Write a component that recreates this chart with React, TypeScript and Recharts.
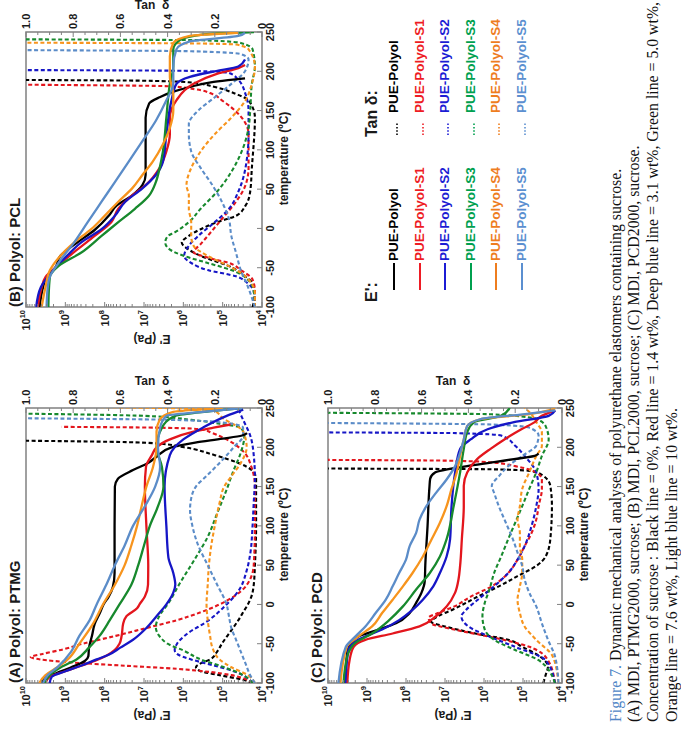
import React from 'react';
import { LineChart, Line, XAxis, YAxis, ReferenceArea } from 'recharts';

type Pt = [number, number];

const SERIES_NAMES = ['PUE-Polyol', 'PUE-Polyol-S1', 'PUE-Polyol-S2', 'PUE-Polyol-S3', 'PUE-Polyol-S4', 'PUE-Polyol-S5'];
const LINE_COLORS = ['#000000', '#e3161d', '#1616c6', '#17892d', '#f7941d', '#5b8cc8'];
const LEGEND_COLORS = ['#000000', '#ee1c24', '#1c1cd4', '#00a04f', '#ee7d1f', '#5b8fd0'];
const TEMP_TICKS = [-100, -50, 0, 50, 100, 150, 200, 250];
const E_DECADES = [4, 5, 6, 7, 8, 9, 10];
const TAN_LABEL_STEP = 0.2;

// ---------- (A) PTMG : storage modulus E' (Pa) ----------
const ptmgE0: Pt[] = [[-100, 4.0e9], [-93, 3.2e9], [-87, 1.6e9], [-80, 7.1e8], [-72, 3.2e8], [-66, 2.6e8], [-55, 2.5e8], [-40, 2.1e8], [-25, 1.8e8], [-10, 1.3e8], [0, 1.07e8], [10, 7.9e7], [22, 6.2e7], [40, 5.6e7], [100, 5.6e7], [150, 5.5e7], [160, 4.6e7], [171, 1.9e7], [180, 7.9e6], [188, 4.8e6], [200, 2.0e6], [206, 5.0e5], [211, 1.0e5], [215, 3.2e4], [218, 2.4e4]];
const ptmgE1: Pt[] = [[-100, 3.2e9], [-92, 2.5e9], [-85, 1.0e9], [-78, 4.0e8], [-72, 1.8e8], [-65, 8.9e7], [-58, 5.6e7], [-50, 4.2e7], [-40, 3.7e7], [-25, 3.4e7], [-15, 2.8e7], [-5, 1.5e7], [0, 1.3e7], [10, 9.5e6], [25, 7.9e6], [50, 7.8e6], [100, 8.7e6], [150, 9.5e6], [175, 8.9e6], [190, 6.3e6], [200, 4.8e6], [210, 2.2e6], [220, 5.5e5], [225, 1.7e5], [229, 6.3e4]];
const ptmgE2: Pt[] = [[-100, 2.5e9], [-92, 2.2e9], [-85, 1.0e9], [-78, 4.0e8], [-70, 1.6e8], [-64, 7.9e7], [-55, 4.0e7], [-45, 1.9e7], [-30, 8.7e6], [-15, 4.8e6], [0, 2.7e6], [15, 1.8e6], [25, 1.6e6], [40, 1.8e6], [60, 2.4e6], [100, 2.7e6], [150, 3.0e6], [190, 2.2e6], [210, 1.0e6], [225, 3.2e5], [240, 7.9e4], [248, 3.0e4]];
const ptmgE3: Pt[] = [[-100, 3.4e9], [-90, 2.5e9], [-80, 1.3e9], [-70, 5.2e8], [-55, 2.5e8], [-40, 1.35e8], [-20, 7.4e7], [0, 4.2e7], [25, 2.1e7], [50, 1.4e7], [75, 1.0e7], [100, 7.1e6], [125, 4.4e6], [150, 3.2e6], [175, 3.5e6], [200, 4.8e6], [225, 3.5e6], [240, 1.6e6], [246, 2.0e5], [250, 3.2e4]];
const ptmgE4: Pt[] = [[-100, 4.6e9], [-90, 3.2e9], [-80, 1.6e9], [-70, 8.7e8], [-50, 4.4e8], [-25, 2.0e8], [0, 1.1e8], [25, 5.5e7], [50, 3.1e7], [75, 2.1e7], [100, 1.5e7], [125, 1.15e7], [150, 8.7e6], [175, 5.9e6], [200, 4.8e6], [220, 4.8e6], [235, 4.0e6], [245, 1.8e6], [248, 4.0e5], [250, 1.0e5]];
const ptmgE5: Pt[] = [[-100, 3.7e9], [-90, 2.8e9], [-80, 1.6e9], [-60, 7.1e8], [-40, 4.4e8], [-20, 2.4e8], [0, 1.6e8], [25, 9.1e7], [50, 5.5e7], [75, 3.1e7], [100, 1.9e7], [125, 9.5e6], [150, 5.2e6], [175, 3.9e6], [200, 4.4e6], [225, 3.9e6], [240, 2.7e6], [245, 3.2e5], [250, 3.2e4]];

// ---------- (A) PTMG : tan delta ----------
const ptmgT0: Pt[] = [[-100, 0.04], [-96, 0.08], [-90, 0.18], [-85, 0.26], [-80, 0.28], [-75, 0.26], [-70, 0.22], [-60, 0.19], [-50, 0.17], [-33, 0.13], [-20, 0.1], [-10, 0.08], [0, 0.06], [10, 0.045], [25, 0.035], [50, 0.03], [100, 0.025], [160, 0.025], [170, 0.04], [180, 0.1], [190, 0.2], [200, 0.33], [205, 0.45], [207, 0.65], [208.5, 1.05]];
const ptmgT1: Pt[] = [[-100, 0.04], [-95, 0.07], [-90, 0.13], [-86, 0.22], [-82, 0.36], [-78, 0.58], [-74, 0.8], [-70, 0.94], [-67, 0.98], [-63, 0.93], [-57, 0.84], [-50, 0.76], [-40, 0.62], [-30, 0.49], [-20, 0.36], [-10, 0.26], [0, 0.18], [10, 0.12], [25, 0.064], [50, 0.035], [100, 0.03], [150, 0.03], [175, 0.045], [195, 0.08], [210, 0.15], [218, 0.21], [223, 0.26], [225, 0.45], [226, 0.85]];
const ptmgT2: Pt[] = [[-100, 0.04], [-92, 0.07], [-85, 0.12], [-78, 0.2], [-70, 0.3], [-63, 0.36], [-58, 0.37], [-50, 0.36], [-38, 0.32], [-21, 0.23], [0, 0.15], [17, 0.1], [43, 0.065], [64, 0.05], [100, 0.04], [130, 0.035], [160, 0.03], [190, 0.035], [215, 0.05], [235, 0.08], [248, 0.1]];
const ptmgT3: Pt[] = [[-100, 0.04], [-90, 0.08], [-80, 0.16], [-70, 0.26], [-59, 0.33], [-50, 0.4], [-42, 0.43], [-29, 0.45], [-12, 0.43], [0, 0.4], [26, 0.35], [60, 0.28], [86, 0.23], [116, 0.19], [146, 0.15], [171, 0.12], [193, 0.09], [214, 0.075], [225, 0.09], [230, 0.18], [235, 0.3], [240, 0.5], [243, 1.05]];
const ptmgT4: Pt[] = [[-100, 0.03], [-90, 0.06], [-80, 0.13], [-70, 0.18], [-55, 0.21], [-40, 0.22], [-20, 0.23], [0, 0.235], [25, 0.23], [50, 0.225], [75, 0.215], [100, 0.2], [129, 0.18], [150, 0.16], [163, 0.13], [180, 0.09], [200, 0.065], [220, 0.08], [238, 0.17], [246, 0.2], [249, 0.3], [252, 0.9]];
const ptmgT5: Pt[] = [[-100, 0.03], [-90, 0.05], [-75, 0.07], [-60, 0.09], [-45, 0.11], [-30, 0.13], [-15, 0.14], [0, 0.15], [25, 0.19], [50, 0.23], [75, 0.27], [100, 0.295], [120, 0.305], [135, 0.3], [150, 0.28], [165, 0.23], [180, 0.18], [200, 0.12], [215, 0.08], [225, 0.08], [231, 0.15], [235, 0.4], [237, 1.05]];

// ---------- (B) PCL : storage modulus E' (Pa) ----------
const pclE0: Pt[] = [[-100, 4.5e9], [-75, 3.7e9], [-62, 3.0e9], [-50, 1.8e9], [-35, 1.35e9], [-18, 5.0e8], [-2, 1.8e8], [16, 7.9e7], [29, 5.0e7], [42, 2.0e7], [55, 1.1e7], [68, 9.1e6], [100, 9.1e6], [141, 9.1e6], [159, 7.4e6], [167, 4.0e6], [174, 1.8e6], [180, 6.8e5], [186, 2.0e5], [189, 6.3e4], [191, 2.7e4]];
const pclE1: Pt[] = [[-100, 5.0e9], [-75, 4.0e9], [-62, 3.2e9], [-48, 1.6e9], [-27, 5.0e8], [-9.5, 1.8e8], [8, 6.8e7], [25, 4.5e7], [42, 2.0e7], [55, 9.1e6], [77, 4.0e6], [98, 2.7e6], [120, 2.2e6], [141, 2.2e6], [163, 1.5e6], [184, 5.5e5], [197, 1.35e5], [204, 4.0e4], [208, 2.7e4]];
const pclE2: Pt[] = [[-100, 5.5e9], [-75, 4.2e9], [-53, 2.0e9], [-35, 9.1e8], [-18, 4.0e8], [-1, 1.2e8], [16, 5.5e7], [34, 3.0e7], [51, 1.1e7], [68, 5.0e6], [85, 3.3e6], [120, 2.7e6], [163, 2.0e6], [184, 1.5e6], [193, 6.8e5], [200, 1.6e5], [206, 4.0e4], [215, 2.7e4]];
const pclE3: Pt[] = [[-100, 2.7e9], [-75, 2.6e9], [-61, 2.45e9], [-48, 1.5e9], [-31, 4.0e8], [-9.5, 1.2e8], [8, 4.5e7], [25, 1.7e7], [42, 7.4e6], [59, 5.0e6], [77, 4.0e6], [98, 3.3e6], [141, 2.7e6], [184, 2.2e6], [206, 1.8e6], [228, 1.8e6], [240, 1.2e6], [247, 3.0e5], [250, 1.6e4]];
const pclE4: Pt[] = [[-100, 4.0e9], [-75, 3.2e9], [-53, 2.45e9], [-35, 1.35e9], [-18, 6.0e8], [-1, 2.2e8], [16, 1.0e8], [34, 4.5e7], [51, 2.0e7], [68, 1.1e7], [85, 6.0e6], [107, 3.3e6], [128, 2.2e6], [150, 1.8e6], [171, 1.8e6], [193, 2.2e6], [219, 2.2e6], [236, 1.8e6], [245, 6.8e5], [249, 4.0e4]];
const pclE5: Pt[] = [[-100, 3.0e9], [-75, 2.8e9], [-61, 2.45e9], [-44, 1.5e9], [-18, 6.0e8], [8, 2.7e8], [34, 1.2e8], [59, 5.5e7], [85, 2.45e7], [111, 1.1e7], [137, 5.0e6], [163, 2.7e6], [184, 1.8e6], [206, 1.8e6], [228, 1.5e6], [238, 6.8e5], [245, 4.0e4], [249, 2.7e4]];

// ---------- (B) PCL : tan delta ----------
const pclT0: Pt[] = [[-100, 0.04], [-85, 0.03], [-70, 0.04], [-61, 0.07], [-48, 0.14], [-35, 0.26], [-27, 0.31], [-18, 0.34], [-9.5, 0.31], [-1, 0.26], [8, 0.19], [16, 0.11], [29, 0.07], [47, 0.05], [77, 0.043], [141, 0.03], [163, 0.057], [171, 0.11], [180, 0.2], [186, 0.31], [188, 0.5], [189, 1.05]];
const pclT1: Pt[] = [[-100, 0.03], [-80, 0.03], [-65, 0.04], [-53, 0.09], [-44, 0.14], [-38, 0.22], [-30, 0.29], [-20, 0.26], [-9.5, 0.23], [12, 0.17], [34, 0.11], [55, 0.07], [77, 0.057], [120, 0.057], [141, 0.086], [154, 0.13], [163, 0.17], [171, 0.21], [177, 0.28], [181, 0.4], [183, 1.05]];
const pclT2: Pt[] = [[-100, 0.03], [-80, 0.035], [-70, 0.06], [-61, 0.11], [-53, 0.23], [-44, 0.3], [-35, 0.33], [-22, 0.31], [-9.5, 0.27], [8, 0.2], [25, 0.14], [47, 0.1], [77, 0.07], [120, 0.057], [150, 0.057], [171, 0.07], [189, 0.1], [198, 0.14], [200.5, 0.3], [201.6, 1.05]];
const pclT3: Pt[] = [[-100, 0.03], [-80, 0.035], [-65, 0.06], [-53, 0.13], [-44, 0.23], [-35, 0.33], [-27, 0.39], [-18, 0.41], [-10, 0.4], [-5, 0.37], [8, 0.31], [25, 0.26], [47, 0.19], [72, 0.13], [98, 0.086], [128, 0.057], [150, 0.05], [184, 0.043], [206, 0.03], [228, 0.04], [236, 0.09], [239.5, 0.25], [240.7, 1.05]];
const pclT4: Pt[] = [[-100, 0.03], [-83, 0.03], [-61, 0.07], [-48, 0.14], [-35, 0.23], [-22, 0.29], [-9.5, 0.3], [8, 0.3], [25, 0.31], [42, 0.31], [55, 0.32], [77, 0.3], [98, 0.26], [120, 0.2], [141, 0.13], [163, 0.07], [184, 0.043], [206, 0.03], [228, 0.057], [234, 0.11], [235.5, 0.3], [236.4, 1.05]];
const pclT5: Pt[] = [[-100, 0.03], [-74, 0.06], [-53, 0.09], [-31, 0.11], [-9.5, 0.13], [12, 0.14], [34, 0.17], [55, 0.21], [77, 0.26], [98, 0.3], [120, 0.31], [133, 0.31], [150, 0.27], [167, 0.2], [184, 0.13], [201, 0.07], [215, 0.057], [222, 0.09], [225.5, 0.3], [227, 1.05]];

// ---------- (C) PCD : storage modulus E' (Pa) ----------
const pcdE0: Pt[] = [[-100, 3.6e9], [-60, 3.2e9], [-50, 2.6e9], [-41, 1.7e9], [-32, 5.0e8], [-24, 1.8e8], [-11, 8.1e7], [2, 5.5e7], [15, 4.0e7], [30, 3.3e7], [50, 3.2e7], [100, 2.8e7], [150, 2.5e7], [160, 2.4e7], [168, 1.8e7], [176, 2.7e6], [181, 5.5e5], [185, 1.7e5], [189, 5.0e4], [192, 4.0e4]];
const pcdE1: Pt[] = [[-100, 3.2e9], [-71, 2.8e9], [-54, 2.2e9], [-45, 1.1e9], [-37, 2.2e8], [-28, 4.5e7], [-15, 1.7e7], [-2.5, 9.1e6], [15, 5.5e6], [32, 4.5e6], [49, 4.1e6], [83, 3.7e6], [125, 3.3e6], [151, 3.3e6], [168, 2.7e6], [185, 1.5e6], [198, 6.8e5], [210, 3.0e5], [223, 1.1e5], [232, 5.0e4], [240, 3.3e4], [247, 1.5e4]];
const pcdE2: Pt[] = [[-100, 3.6e9], [-58, 3.0e9], [-45, 1.7e9], [-32, 4.1e8], [-20, 1.5e8], [-7, 6.8e7], [6, 3.7e7], [23, 2.0e7], [40, 1.35e7], [61, 9.1e6], [83, 7.4e6], [125, 6.8e6], [168, 5.5e6], [198, 4.1e6], [210, 2.2e6], [223, 8.1e5], [232, 1.7e5], [240, 2.2e4], [247, 1.5e4]];
const pcdE3: Pt[] = [[-100, 4.0e9], [-66, 3.2e9], [-49, 2.0e9], [-37, 7.4e8], [-20, 2.7e8], [-2.5, 1.2e8], [19, 5.5e7], [40, 2.45e7], [61, 1.35e7], [83, 9.1e6], [125, 6.0e6], [168, 4.1e6], [198, 3.3e6], [219, 2.7e6], [232, 1.8e6], [240, 3.7e5], [250, 2.2e5]];
const pcdE4: Pt[] = [[-100, 4.8e9], [-54, 3.3e9], [-41, 1.7e9], [-28, 7.4e8], [-11, 4.1e8], [6, 2.2e8], [23, 1.2e8], [40, 6.8e7], [61, 3.7e7], [83, 2.2e7], [104, 1.35e7], [125, 9.1e6], [147, 6.8e6], [168, 5.0e6], [189, 4.1e6], [210, 3.3e6], [227, 2.7e6], [236, 1.2e6], [242, 7.4e4], [249, 1.5e4]];
const pcdE5: Pt[] = [[-100, 5.4e9], [-54, 3.5e9], [-41, 2.0e9], [-28, 1.1e9], [-11, 6.0e8], [6, 3.3e8], [23, 2.2e8], [40, 1.5e8], [57, 1.0e8], [74, 8.1e7], [91, 5.5e7], [108, 4.5e7], [125, 3.0e7], [142, 1.7e7], [159, 9.1e6], [176, 5.5e6], [193, 4.1e6], [210, 3.3e6], [227, 2.7e6], [236, 1.2e6], [242, 1.0e5], [247, 1.5e4]];

// ---------- (C) PCD : tan delta ----------
const pcdT0: Pt[] = [[-100, 0.08], [-90, 0.07], [-79, 0.06], [-65, 0.1], [-54, 0.17], [-45, 0.23], [-37, 0.37], [-28, 0.5], [-22, 0.56], [-15, 0.53], [-7, 0.47], [2, 0.41], [10, 0.36], [23, 0.27], [36, 0.19], [49, 0.11], [61, 0.07], [83, 0.05], [125, 0.043], [151, 0.05], [165, 0.086], [170, 0.14], [172, 0.3], [173, 1.05]];
const pcdT1: Pt[] = [[-100, 0.03], [-71, 0.06], [-54, 0.14], [-41, 0.31], [-32, 0.46], [-24, 0.56], [-17, 0.57], [-11, 0.53], [-2.5, 0.46], [10, 0.39], [23, 0.3], [40, 0.23], [57, 0.19], [74, 0.16], [91, 0.13], [108, 0.11], [125, 0.1], [147, 0.086], [159, 0.086], [168, 0.11], [176, 0.2], [181, 0.31], [183, 0.5], [184, 1.05]];
const pcdT2: Pt[] = [[-100, 0.03], [-71, 0.07], [-54, 0.2], [-41, 0.31], [-28, 0.4], [-15, 0.43], [-7, 0.41], [6, 0.36], [23, 0.29], [40, 0.23], [57, 0.19], [74, 0.16], [100, 0.13], [125, 0.11], [147, 0.1], [168, 0.11], [189, 0.16], [202, 0.2], [215, 0.26], [218, 0.45], [219, 1.05]];
const pcdT3: Pt[] = [[-100, 0.03], [-71, 0.1], [-58, 0.2], [-45, 0.29], [-32, 0.33], [-15, 0.34], [2, 0.33], [19, 0.31], [40, 0.29], [61, 0.26], [83, 0.23], [104, 0.2], [125, 0.17], [147, 0.14], [168, 0.11], [189, 0.086], [210, 0.057], [227, 0.07], [236, 0.11], [242, 0.3], [244, 1.05]];
const pcdT4: Pt[] = [[-100, 0.015], [-66, 0.04], [-45, 0.11], [-28, 0.16], [-11, 0.18], [6, 0.19], [23, 0.18], [40, 0.17], [57, 0.17], [74, 0.18], [91, 0.18], [108, 0.19], [125, 0.18], [147, 0.17], [168, 0.14], [189, 0.11], [202, 0.086], [219, 0.086], [232, 0.11], [245, 0.14], [250, 0.16]];
const pcdT5: Pt[] = [[-100, 0.015], [-66, 0.03], [-45, 0.06], [-24, 0.086], [-2.5, 0.11], [15, 0.14], [32, 0.16], [49, 0.17], [66, 0.19], [83, 0.21], [104, 0.24], [125, 0.27], [142, 0.29], [151, 0.3], [163, 0.27], [176, 0.23], [189, 0.17], [202, 0.11], [215, 0.1], [225, 0.14], [229, 0.3], [231, 1.05]];

const CAPTION_LINES = [
  'Dynamic mechanical analyses of polyurethane elastomers containing sucrose.',
  '(A) MDI, PTMG2000, sucrose; (B) MDI, PCL2000, sucrose; (C) MDI, PCD2000, sucrose.',
  'Concentration of sucrose : Black line = 0%, Red line = 1.4 wt%, Deep blue line = 3.1 wt%, Green line = 5.0 wt%,',
  'Orange line = 7.6 wt%, Light blue line = 10 wt%.',
];

// ---------- axis tick lists ----------
const E_TICKS: number[] = [];
E_DECADES.forEach((d) => {
  if (d === 10) E_TICKS.push(1e10);
  else for (let m = 1; m <= 9; m++) E_TICKS.push(m * Math.pow(10, d));
});
const TAN_TICKS: number[] = Array.from({ length: 21 }, (_, i) => i / 20);

const FONT = "'Liberation Sans', Arial, Helvetica, sans-serif";
const GREY = '#808080';
const TXT = '#1a1a1a';

const toPts = (a: Pt[]) => a.map(([t, v]) => ({ t, v }));

const PL = 66;
const PW = 275;
const PT = 26;

function Label(props: { x: number; y: number; rot?: number; size: number; children: React.ReactNode }) {
  const { x, y, rot = 0, size, children } = props;
  return (
    <div
      style={{
        position: 'absolute', left: x, top: y,
        transform: `translate(-50%, -50%) rotate(${rot}deg)`,
        whiteSpace: 'nowrap', fontFamily: FONT, fontWeight: 700, fontSize: size,
        lineHeight: 1, color: TXT,
      }}
    >
      {children}
    </div>
  );
}

function Panel(props: { left: number; top: number; width: number; plotH: number; title: string; eSeries: Pt[][]; tSeries: Pt[][] }) {
  const { left, top, width, plotH, title, eSeries, tSeries } = props;
  const H = 300;
  const PB = PT + plotH;
  const PR = PL + PW;

  const eTick = (p: any) => {
    const v = p.payload.value;
    const y = p.y;
    const lg = Math.log10(v);
    const exp = Math.round(lg);
    const major = Math.abs(lg - exp) < 1e-6;
    return (
      <g>
        <line x1={PL} x2={PL + (major ? 5 : 3)} y1={y} y2={y} stroke={GREY} strokeWidth={1} />
        {major && (
          <text x={PL - 3} y={y + 4} textAnchor="end" fontFamily={FONT} fontWeight={700} fontSize={11} fill={TXT}>
            10<tspan dy={-5} fontSize={7.5}>{exp}</tspan>
          </text>
        )}
      </g>
    );
  };
  const tTick = (p: any) => {
    const v = p.payload.value;
    const y = p.y;
    const major = Math.abs(v / TAN_LABEL_STEP - Math.round(v / TAN_LABEL_STEP)) < 1e-6;
    return (
      <g>
        <line x1={PR} x2={PR - (major ? 5 : 3)} y1={y} y2={y} stroke={GREY} strokeWidth={1} />
        {major && (
          <text x={PR + 3} y={y + 4} textAnchor="start" fontFamily={FONT} fontWeight={700} fontSize={11} fill={TXT}>
            {v === 0 ? '0' : v.toFixed(1)}
          </text>
        )}
      </g>
    );
  };
  const xTick = (p: any) => {
    const v = p.payload.value;
    const x = p.x;
    return (
      <g>
        <line x1={x} x2={x} y1={PB} y2={PB - 5} stroke={GREY} strokeWidth={1} />
        <text x={x} y={PB + 12} textAnchor="middle" fontFamily={FONT} fontWeight={700} fontSize={11} fill={TXT}>
          {v}
        </text>
      </g>
    );
  };

  return (
    <div style={{ position: 'absolute', left, top, width, height: H }}>
      <LineChart width={width} height={H} margin={{ top: PT, right: 0, bottom: 0, left: 0 }}>
        <XAxis dataKey="t" type="number" domain={[-100, 250]} ticks={TEMP_TICKS} interval={0} allowDataOverflow
          axisLine={false} tickLine={false} tickSize={0} height={H - PT - plotH} tick={xTick} />
        <YAxis yAxisId="E" type="number" scale="log" domain={[1e4, 1e10]} ticks={E_TICKS} interval={0} allowDataOverflow
          axisLine={false} tickLine={false} tickSize={0} width={PL} tick={eTick} />
        <YAxis yAxisId="T" type="number" orientation="right" domain={[0, 1]} ticks={TAN_TICKS} interval={0} allowDataOverflow
          axisLine={false} tickLine={false} tickSize={0} width={width - PL - PW} tick={tTick} />
        <ReferenceArea yAxisId="T" x1={-100} x2={250} y1={0} y2={1} fill="none" fillOpacity={0} stroke={GREY} strokeWidth={1.5} />
        {tSeries.map((s, i) => (
          <Line key={'t' + i} yAxisId="T" data={toPts(s)} dataKey="v" type="monotone" stroke={LINE_COLORS[i]}
            strokeWidth={2.1} strokeDasharray="4 2.5" dot={false} activeDot={false} isAnimationActive={false} />
        ))}
        {eSeries.map((s, i) => (
          <Line key={'e' + i} yAxisId="E" data={toPts(s)} dataKey="v" type="monotone" stroke={LINE_COLORS[i]}
            strokeWidth={2.3} dot={false} activeDot={false} isAnimationActive={false} />
        ))}
      </LineChart>
      <div style={{ position: 'absolute', left: PL, top: PT - 20, fontFamily: FONT, fontWeight: 700, fontSize: 15, lineHeight: '18px', whiteSpace: 'nowrap', color: TXT }}>
        {title}
      </div>
      <Label x={PL - 32} y={PT + plotH / 2 + 8} rot={-90} size={12}>E' (Pa)</Label>
      <Label x={PR + 27} y={PT + plotH / 2 + 8} rot={90} size={12}>Tan&nbsp;&nbsp;δ</Label>
      <Label x={PL + PW / 2 + 11} y={PB + 22} size={12}>temperature (ºC)</Label>
    </div>
  );
}

const LEGEND_ROWS = [394, 420, 445, 471, 496, 522];

function Legend() {
  return (
    <>
      <div style={{ position: 'absolute', left: 447, top: 363, fontFamily: FONT, fontWeight: 700, fontSize: 16, lineHeight: '18px', color: TXT }}>E':</div>
      <div style={{ position: 'absolute', left: 612, top: 363, fontFamily: FONT, fontWeight: 700, fontSize: 16, lineHeight: '18px', color: TXT }}>Tan δ:</div>
      {SERIES_NAMES.map((name, i) => (
        <React.Fragment key={name}>
          <svg style={{ position: 'absolute', left: 459, top: LEGEND_ROWS[i] - 2 }} width={28} height={4}>
            <line x1={0} x2={27} y1={2} y2={2} stroke={LEGEND_COLORS[i]} strokeWidth={2} />
          </svg>
          <div style={{ position: 'absolute', left: 488, top: LEGEND_ROWS[i] - 8, fontFamily: FONT, fontWeight: 700, fontSize: 13.5, lineHeight: '16px', whiteSpace: 'nowrap', color: LEGEND_COLORS[i] }}>{name}</div>
          <svg style={{ position: 'absolute', left: 614, top: LEGEND_ROWS[i] + 1 }} width={14} height={4}>
            <line x1={0} x2={13} y1={2} y2={2} stroke={LEGEND_COLORS[i]} strokeWidth={1.6} strokeDasharray="1.5 1.8" />
          </svg>
          <div style={{ position: 'absolute', left: 636, top: LEGEND_ROWS[i] - 8, fontFamily: FONT, fontWeight: 700, fontSize: 13.5, lineHeight: '16px', whiteSpace: 'nowrap', color: LEGEND_COLORS[i] }}>{name}</div>
        </React.Fragment>
      ))}
    </>
  );
}

function Caption() {
  const tops = [606, 624, 643, 662];
  const base: React.CSSProperties = {
    position: 'absolute', left: 27, fontFamily: "'Liberation Serif', 'Times New Roman', serif",
    fontSize: 15.8, lineHeight: '19px', whiteSpace: 'nowrap', color: '#111',
  };
  return (
    <>
      {CAPTION_LINES.map((line, i) => (
        <div key={i} style={{ ...base, top: tops[i] }}>
          {i === 0 && <span style={{ color: '#4f86c6' }}>Figure 7. </span>}
          {line}
        </div>
      ))}
    </>
  );
}

export default function App() {
  return (
    <div style={{ position: 'absolute', left: 0, top: 0, width: 681, height: 749, overflow: 'hidden', background: '#ffffff' }}>
      <div style={{ position: 'absolute', left: 0, top: 0, width: 749, height: 681, transformOrigin: '0 0', transform: 'translate(0px, 749px) rotate(-90deg)' }}>
        <Panel left={0} top={0} width={376} plotH={236} title="(A) Polyol: PTMG"
          eSeries={[ptmgE0, ptmgE1, ptmgE2, ptmgE3, ptmgE4, ptmgE5]} tSeries={[ptmgT0, ptmgT1, ptmgT2, ptmgT3, ptmgT4, ptmgT5]} />
        <Panel left={376} top={0} width={373} plotH={236} title="(B) Polyol: PCL"
          eSeries={[pclE0, pclE1, pclE2, pclE3, pclE4, pclE5]} tSeries={[pclT0, pclT1, pclT2, pclT3, pclT4, pclT5]} />
        <Panel left={0} top={302} width={376} plotH={234} title="(C) Polyol: PCD"
          eSeries={[pcdE0, pcdE1, pcdE2, pcdE3, pcdE4, pcdE5]} tSeries={[pcdT0, pcdT1, pcdT2, pcdT3, pcdT4, pcdT5]} />
        <Legend />
        <Caption />
      </div>
    </div>
  );
}
